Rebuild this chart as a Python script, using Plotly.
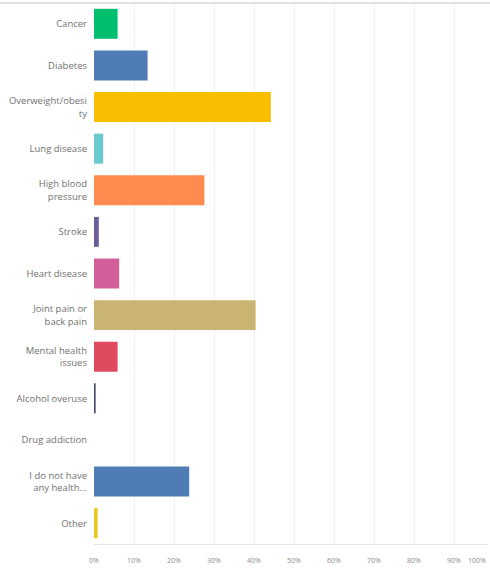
import plotly.graph_objects as go

categories = ["Cancer", "Diabetes", "Overweight/obesi<br>ty", "Lung disease",
              "High blood<br>pressure", "Stroke", "Heart disease",
              "Joint pain or<br>back pain", "Mental health<br>issues",
              "Alcohol overuse", "Drug addiction", "I do not have<br>any health...", "Other"]
values = [5.9, 13.4, 44.2, 2.3, 27.6, 1.2, 6.3, 40.4, 5.9, 0.4, 0.0, 23.8, 0.9]
colors = ["#00BF6F", "#507CB6", "#F9BE00", "#6BC8CD", "#FF8B4F", "#6C5E9A",
          "#D25F9A", "#C9B571", "#E04A5E", "#3E4466", "#507CB6", "#507CB6", "#E8C81A"]
tick_vals = [0, 10, 20, 30, 40, 50, 60, 70, 80, 90]
tick_text = ["0%", "10%", "20%", "30%", "40%", "50%", "60%", "70%", "80%", "90%"]

fig = go.Figure(go.Bar(
    x=values, y=categories, orientation="h",
    marker=dict(color=colors, line=dict(width=0)),
    hoverinfo="x+y",
))

fig.update_layout(
    template="none",
    width=490, height=568,
    margin=dict(l=94, r=2, t=3, b=24, pad=0),
    paper_bgcolor="white", plot_bgcolor="white",
    bargap=0.28,
    showlegend=False,
    font=dict(family="Open Sans, sans-serif", size=9, color="#707070"),
    xaxis=dict(range=[0, 98.5], tickvals=tick_vals, ticktext=tick_text,
               automargin=False,
               showgrid=True, gridcolor="#f0f0f0", gridwidth=1,
               zeroline=False, showline=True, linecolor="#e3e3e3", linewidth=1,
               ticks="", ticklabelstandoff=10, tickfont=dict(size=7, color="#8a8a8a"),
               fixedrange=True),
    yaxis=dict(autorange="reversed", automargin=False, showgrid=False, zeroline=False,
               showline=False, ticks="", ticklabelstandoff=6,
               tickfont=dict(size=9.5, color="#707070"), fixedrange=True),
    shapes=[dict(type="line", xref="paper", yref="paper", x0=-0.25, x1=1.01,
                 y0=1.0, y1=1.0, line=dict(color="#d8d8d8", width=1.5))],
    annotations=[dict(text="100%", xref="paper", yref="paper", x=1.0, y=0,
                      xanchor="right", yanchor="top", yshift=-10, showarrow=False,
                      font=dict(size=7, color="#8a8a8a"))],
)

fig.write_html("out.html", config={"displayModeBar": False, "staticPlot": True},
               post_script="document.body.style.margin='0';document.body.style.overflow='hidden';")
